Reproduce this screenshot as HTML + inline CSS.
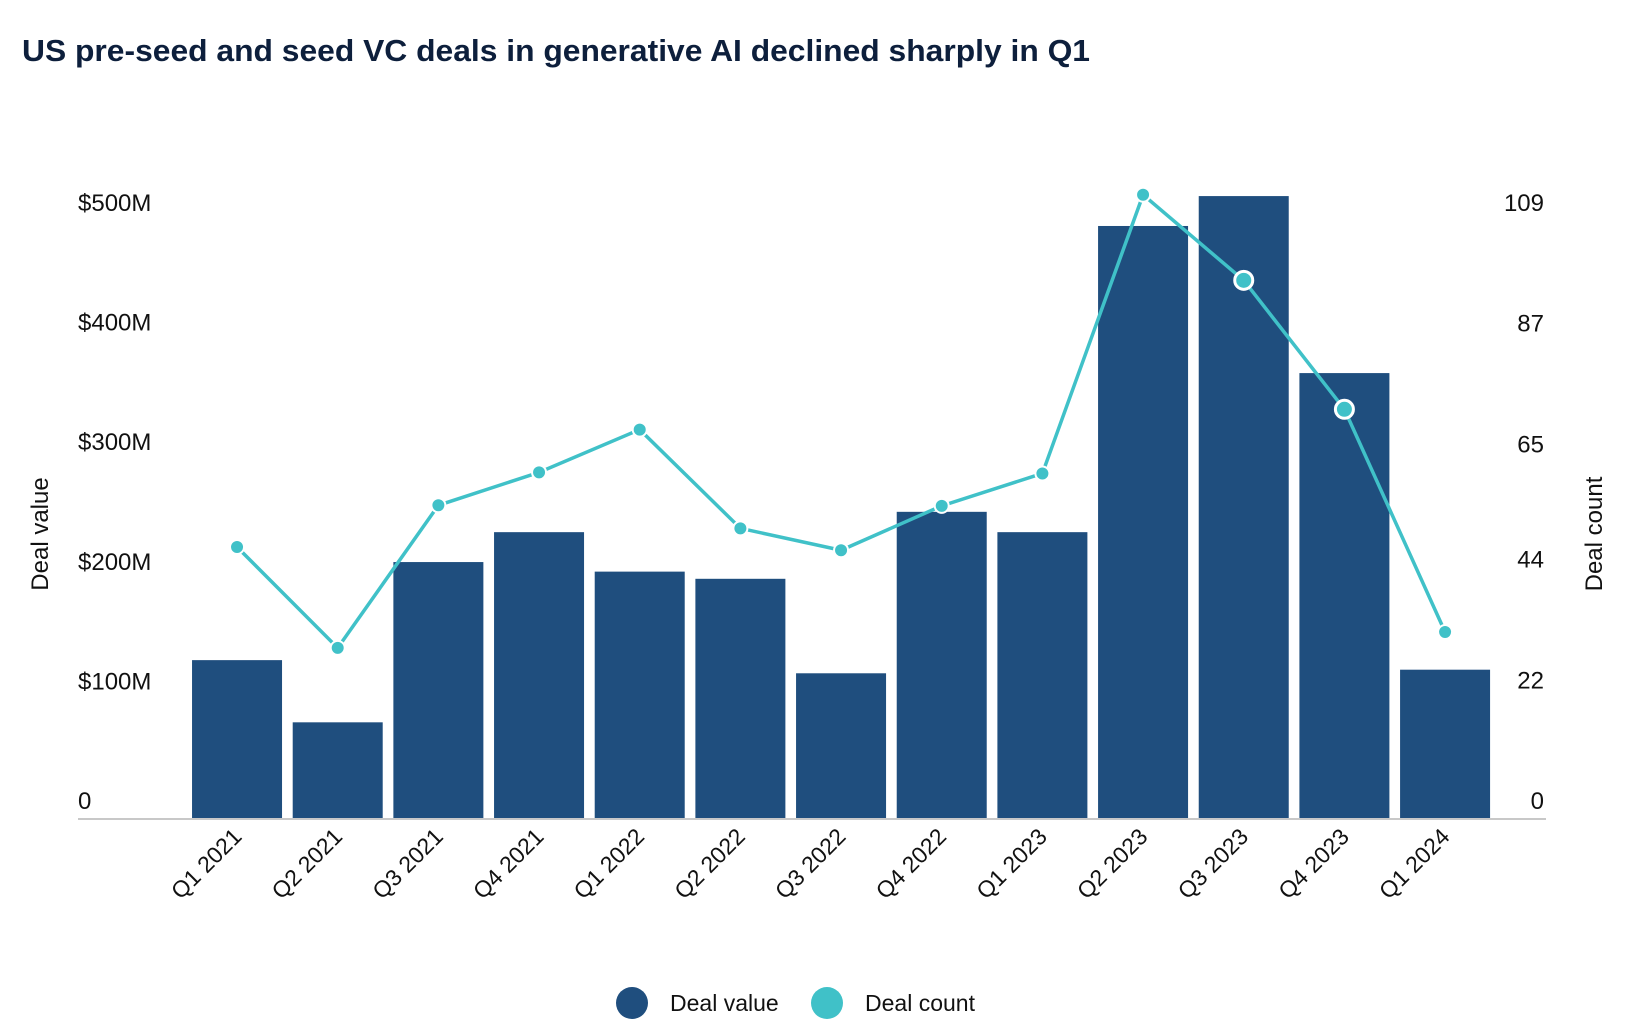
<!DOCTYPE html>
<html><head><meta charset="utf-8"><style>
html,body{margin:0;padding:0;background:#fff;}
svg{display:block;font-family:"Liberation Sans",sans-serif;}
</style></head><body>
<svg id="chart" width="1638" height="1034" viewBox="0 0 1638 1034">
<text x="22" y="61" font-size="31" font-weight="bold" fill="#0d1f3c" textLength="1068" lengthAdjust="spacingAndGlyphs">US pre-seed and seed VC deals in generative AI declined sharply in Q1</text>
<text transform="translate(48,534) rotate(-90)" text-anchor="middle" font-size="24" fill="#111">Deal value</text>
<text transform="translate(1602,534) rotate(-90)" text-anchor="middle" font-size="24" fill="#111">Deal count</text>
<g id="plot"></g>
<g>
<circle cx="632" cy="1003" r="16" fill="#1f4e7e"/>
<text x="670" y="1011" font-size="23" fill="#111">Deal value</text>
<circle cx="827" cy="1003" r="16" fill="#40c1c8"/>
<text x="865" y="1011" font-size="23" fill="#111">Deal count</text>
</g>
</svg>
<script>
const categories = ["Q1 2021","Q2 2021","Q3 2021","Q4 2021","Q1 2022","Q2 2022","Q3 2022","Q4 2022","Q1 2023","Q2 2023","Q3 2023","Q4 2023","Q1 2024"];
const dealValue = [132, 80, 214, 239, 206, 200, 121, 256, 239, 495, 520, 372, 124];
const dealCount = [49.4, 31, 57, 63, 70.8, 52.8, 48.8, 56.9, 62.8, 113.6, 98, 74.5, 33.9];
const leftTicks = [0, 100, 200, 300, 400, 500];
const leftTickLabels = ["0", "$100M", "$200M", "$300M", "$400M", "$500M"];
const rightTicks = [0, 22, 44, 65, 87, 109];
const highlighted = [10, 11];

const NS = "http://www.w3.org/2000/svg";
const g = document.getElementById('plot');
const baseY = 818, topY = 220, x0 = 186.7, band = 100.67;
function yL(v){ return baseY - v / 500 * (baseY - topY); }
function yR(v){ return baseY - v / 109 * (baseY - topY); }
function xC(i){ return x0 + band * (i + 0.5); }
function mk(tag, attrs){ const e = document.createElementNS(NS, tag); for (const k in attrs) e.setAttribute(k, attrs[k]); g.appendChild(e); return e; }

leftTicks.forEach((t, i) => {
  const e = mk('text', {x: 78, y: yL(t) - 9, 'font-size': 24, fill: '#111'});
  
  
  e.textContent = leftTickLabels[i];
});
rightTicks.forEach(t => {
  const e = mk('text', {x: 1544, y: yR(t) - 9, 'font-size': 24, fill: '#111', 'text-anchor': 'end'});
  
  
  e.textContent = String(t);
});
dealValue.forEach((v, i) => {
  const r = mk('rect', {x: xC(i) - 45, y: yL(v), width: 90, height: baseY - yL(v), fill: '#1f4e7e'});
  
  
});
const base = mk('line', {x1: 78, x2: 1546, y1: baseY + 1, y2: baseY + 1, stroke: '#c8c8c8', 'stroke-width': 2});


const pts = dealCount.map((v, i) => xC(i) + ',' + yR(v)).join(' ');
const pl = mk('polyline', {points: pts, fill: 'none', stroke: '#40c1c8', 'stroke-width': 3.5});


dealCount.forEach((v, i) => {
  const hl = highlighted.includes(i);
  const c = mk('circle', {cx: xC(i), cy: yR(v), r: hl ? 9 : 7, fill: '#40c1c8', stroke: '#fff', 'stroke-width': hl ? 3 : 2});
  
  
});
categories.forEach((c, i) => {
  const x = xC(i) + 6, y = 838;
  const t = mk('text', {x: x, y: y, 'font-size': 23, fill: '#111', 'text-anchor': 'end', transform: 'rotate(-45 ' + x + ' ' + y + ')'});
  
  
  t.textContent = c;
});
</script>
</body></html>
